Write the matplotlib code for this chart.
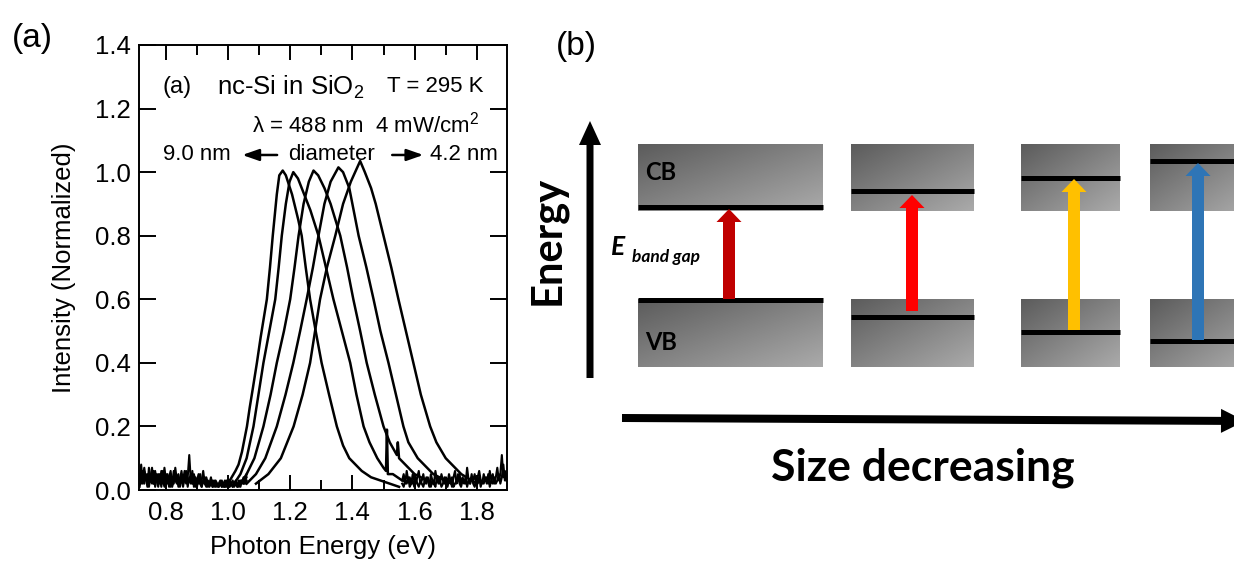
import numpy as np
import matplotlib
matplotlib.use("Agg")
import matplotlib.pyplot as plt
from matplotlib.ticker import MultipleLocator, FormatStrFormatter
from matplotlib.patches import FancyArrow
from matplotlib.colors import LinearSegmentedColormap

plt.rcParams['font.family'] = ['Liberation Sans', 'DejaVu Sans']
plt.rcParams['mathtext.fontset'] = 'custom'
plt.rcParams['mathtext.rm'] = 'Liberation Sans'
plt.rcParams['mathtext.it'] = 'Liberation Sans:italic'

# ---------------- data: PL spectra (photon energy eV, normalized intensity) -------------
c1_x = [1.000, 1.012, 1.024, 1.034, 1.045, 1.053, 1.061, 1.070, 1.080, 1.093, 1.105, 1.115,
        1.125, 1.135, 1.144, 1.150, 1.157, 1.165, 1.176, 1.186, 1.196, 1.206, 1.216, 1.226,
        1.237, 1.250, 1.264, 1.282, 1.301, 1.325, 1.350, 1.370, 1.390, 1.410, 1.430, 1.460,
        1.490, 1.520, 1.550]
c1_y = [0.02, 0.04, 0.06, 0.08, 0.12, 0.16, 0.20, 0.26, 0.32, 0.40, 0.48, 0.54,
        0.60, 0.70, 0.80, 0.86, 0.93, 0.99, 1.005, 0.99, 0.96, 0.93, 0.89, 0.85,
        0.80, 0.70, 0.60, 0.50, 0.40, 0.30, 0.20, 0.14, 0.10, 0.08, 0.06, 0.04,
        0.03, 0.02, 0.01]

c2_x = [1.020, 1.040, 1.060, 1.082, 1.098, 1.114, 1.133, 1.152, 1.163, 1.173, 1.186, 1.198,
        1.210, 1.225, 1.245, 1.265, 1.291, 1.315, 1.339, 1.366, 1.393, 1.413, 1.436, 1.455,
        1.480, 1.500, 1.508, 1.511, 1.514, 1.530, 1.560, 1.600]
c2_y = [0.02, 0.05, 0.10, 0.20, 0.30, 0.40, 0.50, 0.60, 0.70, 0.80, 0.90, 0.97,
        1.00, 0.98, 0.93, 0.88, 0.80, 0.70, 0.60, 0.50, 0.40, 0.30, 0.20, 0.15,
        0.10, 0.07, 0.06, 0.19, 0.05, 0.05, 0.03, 0.02]

c3_x = [1.040, 1.060, 1.085, 1.114, 1.137, 1.157, 1.180, 1.200, 1.214, 1.227, 1.243, 1.260,
        1.275, 1.290, 1.310, 1.330, 1.361, 1.383, 1.403, 1.425, 1.446, 1.472, 1.500, 1.520,
        1.543, 1.546, 1.550, 1.600, 1.660]
c3_y = [0.02, 0.05, 0.10, 0.20, 0.30, 0.40, 0.50, 0.60, 0.70, 0.80, 0.90, 0.97,
        1.005, 0.99, 0.95, 0.90, 0.80, 0.70, 0.60, 0.50, 0.40, 0.30, 0.20, 0.15,
        0.11, 0.15, 0.10, 0.05, 0.02]

c4_x = [1.060, 1.090, 1.120, 1.157, 1.185, 1.210, 1.232, 1.253, 1.273, 1.291, 1.310, 1.330,
        1.355, 1.370, 1.390, 1.400, 1.420, 1.445, 1.468, 1.490, 1.516, 1.540, 1.564, 1.580,
        1.610, 1.660, 1.720]
c4_y = [0.02, 0.05, 0.10, 0.20, 0.30, 0.40, 0.50, 0.60, 0.70, 0.80, 0.90, 0.97,
        1.015, 1.00, 0.95, 0.90, 0.80, 0.70, 0.60, 0.50, 0.40, 0.30, 0.20, 0.15,
        0.10, 0.05, 0.02]

c5_x = [1.090, 1.130, 1.170, 1.211, 1.240, 1.264, 1.280, 1.296, 1.318, 1.345, 1.370, 1.395,
        1.418, 1.425, 1.440, 1.460, 1.475, 1.500, 1.525, 1.548, 1.572, 1.596, 1.620, 1.650,
        1.670, 1.700, 1.750, 1.800]
c5_y = [0.02, 0.05, 0.10, 0.20, 0.30, 0.40, 0.50, 0.60, 0.70, 0.80, 0.90, 0.97,
        1.02, 1.035, 1.00, 0.95, 0.90, 0.80, 0.70, 0.60, 0.50, 0.40, 0.30, 0.20,
        0.15, 0.10, 0.05, 0.02]

# noisy baseline traces
noise_low_a = [0.03, 0.08, 0.02, 0.06, 0.04, 0.01, 0.07, 0.03, 0.05, 0.02, 0.06, 0.03, 0.01, 0.05,
               0.04, 0.02, 0.07, 0.03, 0.04, 0.01, 0.05, 0.02, 0.06, 0.03, 0.02, 0.04, 0.01, 0.05,
               0.03, 0.06, 0.02, 0.04, 0.11, 0.03, 0.02, 0.05, 0.03, 0.01, 0.04, 0.02, 0.03, 0.06,
               0.02, 0.01, 0.03, 0.02, 0.04, 0.01, 0.03, 0.02, 0.01, 0.02, 0.03, 0.01, 0.02, 0.01,
               0.03, 0.02, 0.01, 0.02, 0.01, 0.02, 0.03, 0.02, 0.01, 0.03, 0.02, 0.04, 0.03, 0.05]
noise_low_b = [0.01, 0.04, 0.06, 0.02, 0.05, 0.03, 0.02, 0.04, 0.07, 0.02, 0.03, 0.05, 0.02, 0.04,
               0.01, 0.06, 0.03, 0.02, 0.05, 0.03, 0.01, 0.04, 0.02, 0.07, 0.03, 0.05, 0.02, 0.03,
               0.01, 0.04, 0.06, 0.02, 0.03, 0.05, 0.02, 0.04, 0.01, 0.03, 0.05, 0.02, 0.01, 0.03,
               0.04, 0.02, 0.01, 0.02, 0.03, 0.01, 0.02, 0.01, 0.02, 0.01, 0.02, 0.03, 0.01, 0.01,
               0.02, 0.01, 0.03, 0.02, 0.01, 0.02, 0.02, 0.01, 0.03, 0.02, 0.03, 0.02, 0.03, 0.04]
noise_low_c = [0.05, 0.02, 0.04, 0.07, 0.03, 0.05, 0.01, 0.04, 0.02, 0.06, 0.01, 0.04, 0.05, 0.02,
               0.06, 0.03, 0.01, 0.05, 0.02, 0.04, 0.06, 0.01, 0.03, 0.05, 0.04, 0.01, 0.03, 0.06,
               0.02, 0.03, 0.05, 0.01, 0.04, 0.02, 0.06, 0.01, 0.04, 0.03, 0.02, 0.05, 0.01, 0.03,
               0.02, 0.04, 0.02, 0.01, 0.02, 0.03, 0.01, 0.03, 0.02, 0.01, 0.02, 0.01, 0.02, 0.03,
               0.01, 0.02, 0.01, 0.02, 0.03, 0.01, 0.02, 0.01, 0.02, 0.01, 0.03, 0.02, 0.02, 0.03]
noise_high_a = [0.03, 0.05, 0.02, 0.06, 0.03, 0.04, 0.02, 0.05, 0.03, 0.02, 0.04, 0.06, 0.02, 0.03,
                0.05, 0.02, 0.04, 0.03, 0.01, 0.05, 0.03, 0.02, 0.06, 0.03, 0.04, 0.02, 0.05, 0.03,
                0.02, 0.04, 0.02, 0.05, 0.03, 0.01, 0.04, 0.06, 0.02, 0.03, 0.05, 0.02, 0.04, 0.03,
                0.02, 0.07, 0.03, 0.02, 0.04, 0.03, 0.05, 0.02, 0.04, 0.06, 0.03, 0.02, 0.05, 0.03,
                0.04, 0.02, 0.06, 0.03, 0.05, 0.02, 0.04, 0.07, 0.03, 0.05, 0.11, 0.04, 0.06, 0.03]
noise_high_b = [0.02, 0.01, 0.03, 0.02, 0.04, 0.01, 0.02, 0.03, 0.01, 0.04, 0.02, 0.01, 0.03, 0.02,
                0.01, 0.03, 0.02, 0.04, 0.02, 0.01, 0.03, 0.02, 0.01, 0.04, 0.02, 0.03, 0.01, 0.02,
                0.04, 0.02, 0.01, 0.03, 0.02, 0.04, 0.01, 0.02, 0.03, 0.05, 0.02, 0.01, 0.03, 0.02,
                0.04, 0.01, 0.03, 0.02, 0.05, 0.02, 0.01, 0.03, 0.02, 0.04, 0.01, 0.03, 0.02, 0.04,
                0.02, 0.05, 0.01, 0.03, 0.02, 0.04, 0.02, 0.03, 0.05, 0.02, 0.04, 0.08, 0.03, 0.05]
noise_low_range = (0.716, 1.06)
noise_high_range = (1.56, 1.895)

x_ticks = [0.8, 1.0, 1.2, 1.4, 1.6, 1.8]
y_ticks = [0.0, 0.2, 0.4, 0.6, 0.8, 1.0, 1.2, 1.4]

# ---------------- data: band diagram (energy levels, arbitrary units) --------------------
cb_levels = [356, 372, 385, 402]
vb_levels = [263, 246, 231, 222]
arrow_start = [264, 252, 233, 223]
arrow_end = [354, 368, 384, 400]
arrow_colors = ['#C00000', '#FF0000', '#FFC000', '#2E75B6']

# ---------------- figure ----------------
W, H, DPI = 1234, 563, 100
fig = plt.figure(figsize=(W / DPI, H / DPI), dpi=DPI)

ax_top, ax_bot = 45, 490
ax = fig.add_axes([139 / W, 1 - ax_bot / H, 368 / W, (ax_bot - ax_top) / H])
for xs, ys in [(c1_x, c1_y), (c2_x, c2_y), (c3_x, c3_y), (c4_x, c4_y), (c5_x, c5_y)]:
    ax.plot(xs, ys, color='black', lw=1.8)
for vals, rng in [(noise_low_a, noise_low_range), (noise_low_b, noise_low_range),
                  (noise_low_c, noise_low_range),
                  (noise_high_a, noise_high_range), (noise_high_b, noise_high_range)]:
    ax.plot(np.linspace(rng[0], rng[1], len(vals)), vals, color='black', lw=1.5)

ax.set_xlim(0.714, 1.897)
ax.set_ylim(0, 1.4)
ax.set_xticks(x_ticks)
ax.set_yticks(y_ticks)
ax.xaxis.set_minor_locator(MultipleLocator(0.1))
ax.xaxis.set_major_formatter(FormatStrFormatter('%.1f'))
ax.yaxis.set_major_formatter(FormatStrFormatter('%.1f'))
ax.tick_params(which='both', direction='in', top=True, right=True, labelsize=18.5, width=1.4)
ax.tick_params(axis='x', which='major', length=11, pad=8)
ax.tick_params(axis='x', which='minor', length=7)
ax.tick_params(axis='y', which='major', length=12, pad=6)
for s in ax.spines.values():
    s.set_linewidth(1.4)
ax.set_xlabel('Photon Energy (eV)', fontsize=18.5)
ax.set_ylabel('Intensity (Normalized)', fontsize=18.5)
ax.xaxis.label.set_va('center')
ax.yaxis.label.set_va('center')
ax.xaxis.set_label_coords(0.5, (ax_bot - 547) / (ax_bot - ax_top))
ax.yaxis.set_label_coords((64 - 139) / 368, 0.5)

tk = dict(transform=ax.transData, va='center', ha='left', color='black')
ax.text(0.788, 1.268, '(a)', fontsize=17, **tk)
ax.text(0.965, 1.268, 'nc-Si in SiO$_2$', fontsize=18.5, **tk)
ax.text(1.512, 1.268, 'T = 295 K', fontsize=16, **tk)
ax.text(1.078, 1.151, 'λ = 488 nm  4 mW/cm$^2$', fontsize=16, **tk)
ax.text(0.791, 1.054, '9.0 nm', fontsize=16, **tk)
ax.text(1.193, 1.054, 'diameter', fontsize=16, **tk)
ax.text(1.650, 1.054, '4.2 nm', fontsize=16, **tk)
ap = dict(arrowstyle='-|>,head_length=1.0,head_width=0.35', color='black', lw=1.8,
          shrinkA=0, shrinkB=0)
ax.annotate('', xy=(1.046, 1.054), xytext=(1.158, 1.054), arrowprops=ap)
ax.annotate('', xy=(1.628, 1.054), xytext=(1.528, 1.054), arrowprops=ap)

fig.text(32 / W, 1 - 38 / H, '(a)', fontsize=24, ha='center', va='center')
fig.text(576 / W, 1 - 47 / H, '(b)', fontsize=24, ha='center', va='center')

# ---------------- band diagram ----------------
dax = fig.add_axes([0, 0, 1, 1])
dax.set_xlim(0, W)
dax.set_ylim(0, H)
dax.axis('off')
dax.patch.set_alpha(0)

gray = LinearSegmentedColormap.from_list('g', ['#5c5c5c', '#aaaaaa'])
u = np.linspace(0, 1, 60)
grad = (u[None, :] + u[:, None]) / 2.0

columns = [(638, 823), (851, 974), (1021, 1120), (1150, 1250)]
arrow_x = [729, 912, 1074, 1198]
cb_box = (352, 419)
vb_box = (196, 264)
line_lw = 3.6
for i, (x0, x1) in enumerate(columns):
    for (yb, yt) in [cb_box, vb_box]:
        dax.imshow(grad, extent=(x0, x1, yb, yt), origin='upper', cmap=gray,
                   vmin=0, vmax=1, aspect='auto', interpolation='bilinear', zorder=1)
    dax.plot([x0, x1], [cb_levels[i], cb_levels[i]], color='black', lw=line_lw,
             solid_capstyle='butt', zorder=2)
    dax.plot([x0, x1], [vb_levels[i], vb_levels[i]], color='black', lw=line_lw,
             solid_capstyle='butt', zorder=2)
    dax.add_patch(FancyArrow(arrow_x[i], arrow_start[i], 0, arrow_end[i] - arrow_start[i],
                             width=12, head_width=25, head_length=13,
                             length_includes_head=True, color=arrow_colors[i], lw=0, zorder=3))

dax.set_xlim(0, W)
dax.set_ylim(0, H)

# axes arrows
dax.add_patch(FancyArrow(590, 185, 0, 257, width=7, head_width=22, head_length=24,
                         length_includes_head=True, color='black', lw=0))
dax.add_patch(FancyArrow(622, 145, 623, -3, width=8, head_width=24, head_length=24,
                         length_includes_head=True, color='black', lw=0, clip_on=False))

lato = dict(family=['Lato', 'DejaVu Sans'], weight='bold', color='black')
dax.text(547, 323, 'Energy', rotation=90, fontsize=30, ha='center', va='center', **lato)
dax.text(923, 95, 'Size decreasing', fontsize=32, ha='center', va='center', **lato)
dax.text(645, 391, 'CB', fontsize=17, ha='left', va='center', **lato)
dax.text(645, 220, 'VB', fontsize=17, ha='left', va='center', **lato)
dax.text(611, 316, 'E', fontsize=19, ha='left', va='center', style='italic', **lato)
dax.text(632, 306, 'band gap', fontsize=12.5, ha='left', va='center', style='italic', **lato)

fig.savefig('out.png', dpi=DPI)
